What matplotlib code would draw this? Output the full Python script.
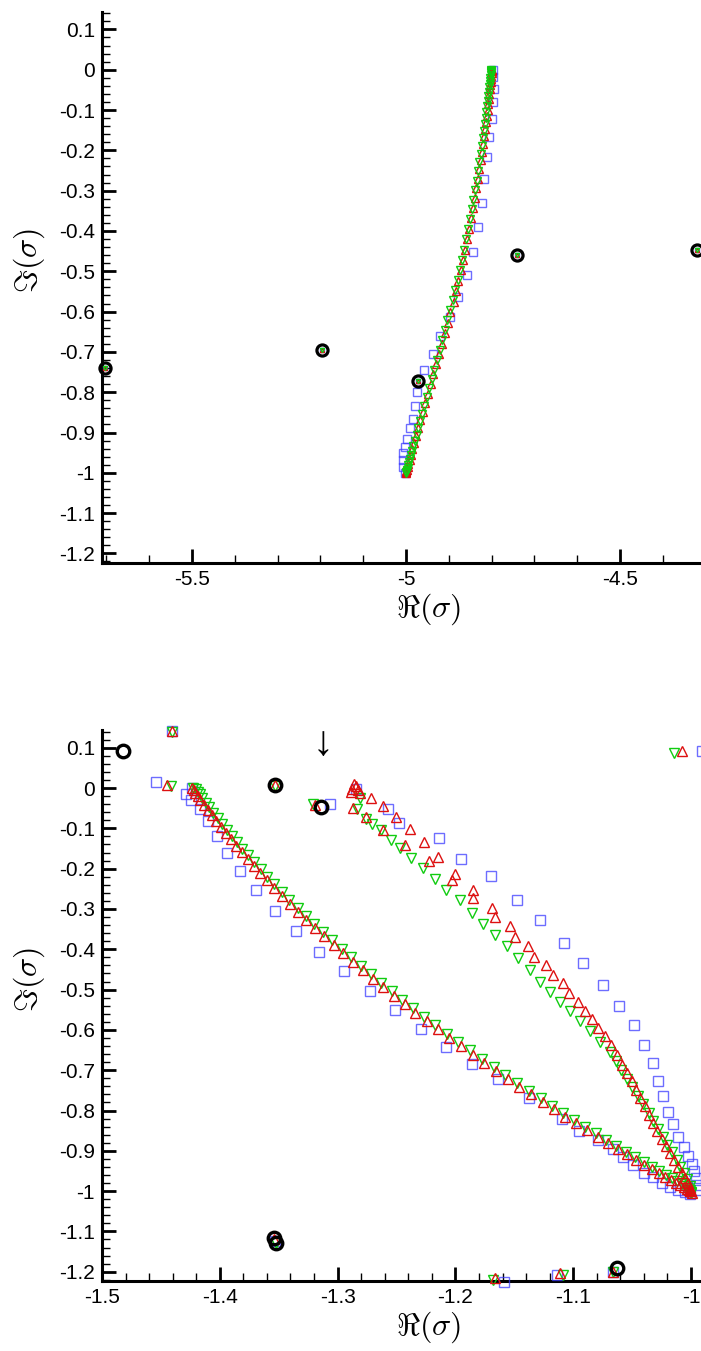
import matplotlib
matplotlib.use("Agg")
import matplotlib.pyplot as plt
from matplotlib.ticker import MultipleLocator, FuncFormatter

plt.rcParams["font.family"] = ["Liberation Sans", "DejaVu Sans"]
plt.rcParams["mathtext.fontset"] = "cm"
plt.rcParams["axes.unicode_minus"] = False

# ---------------- upper panel: spectrum near Re = -5 ----------------
top_red_re = [-4.7990, -4.7994, -4.7999, -4.8004, -4.8011, -4.8019, -4.8029, -4.8039, -4.8051,
              -4.8064, -4.8078, -4.8094, -4.8112, -4.8131, -4.8153, -4.8176, -4.8201, -4.8228,
              -4.8257, -4.8289, -4.8324, -4.8361, -4.8399, -4.8441, -4.8483, -4.8529, -4.8576,
              -4.8625, -4.8675, -4.8726, -4.8779, -4.8833, -4.8889, -4.8966, -4.9030, -4.9095,
              -4.9160, -4.9226, -4.9292, -4.9360, -4.9425, -4.9490, -4.9553, -4.9612, -4.9668,
              -4.9720, -4.9768, -4.9812, -4.9852, -4.9888, -4.9918, -4.9944, -4.9962, -4.9978,
              -4.9990, -4.9998, -5.0000]
top_red_im = [0.0, -0.004, -0.009, -0.015, -0.022, -0.030, -0.039, -0.049, -0.060, -0.072,
              -0.085, -0.099, -0.114, -0.130, -0.147, -0.165, -0.184, -0.204, -0.225, -0.247,
              -0.270, -0.294, -0.318, -0.343, -0.368, -0.394, -0.420, -0.446, -0.472, -0.498,
              -0.524, -0.550, -0.576, -0.602, -0.628, -0.654, -0.680, -0.706, -0.731, -0.756,
              -0.780, -0.804, -0.827, -0.849, -0.870, -0.890, -0.909, -0.926, -0.942, -0.956,
              -0.968, -0.978, -0.986, -0.992, -0.996, -0.999, -1.000]

top_green_re = [-4.8010, -4.8012, -4.8015, -4.8019, -4.8023, -4.8029, -4.8036, -4.8044, -4.8054,
                -4.8064, -4.8076, -4.8089, -4.8104, -4.8120, -4.8138, -4.8158, -4.8179, -4.8202,
                -4.8227, -4.8255, -4.8285, -4.8317, -4.8351, -4.8387, -4.8426, -4.8466, -4.8508,
                -4.8552, -4.8598, -4.8645, -4.8693, -4.8742, -4.8793, -4.8845, -4.8898, -4.8973,
                -4.9031, -4.9092, -4.9154, -4.9217, -4.9278, -4.9340, -4.9400, -4.9460, -4.9516,
                -4.9570, -4.9620, -4.9667, -4.9712, -4.9752, -4.9792, -4.9826, -4.9860, -4.9888,
                -4.9910, -4.9930, -4.9948, -4.9962, -4.9976, -4.9988, -4.9997, -5.0000]
top_green_im = [0.0, -0.002, -0.005, -0.009, -0.014, -0.020, -0.027, -0.035, -0.044, -0.054,
                -0.065, -0.077, -0.090, -0.104, -0.119, -0.135, -0.152, -0.170, -0.189, -0.209,
                -0.230, -0.252, -0.275, -0.298, -0.322, -0.346, -0.371, -0.396, -0.421, -0.446,
                -0.471, -0.496, -0.521, -0.546, -0.571, -0.596, -0.621, -0.646, -0.671, -0.696,
                -0.720, -0.744, -0.767, -0.790, -0.812, -0.833, -0.853, -0.872, -0.890, -0.906,
                -0.921, -0.934, -0.946, -0.957, -0.966, -0.974, -0.981, -0.987, -0.992, -0.996,
                -0.999, -1.000]

top_blue_re = [-4.7970, -4.7960, -4.7944, -4.7975, -4.7998, -4.8054, -4.8115, -4.8171, -4.8232,
               -4.8311, -4.8428, -4.8582, -4.8778, -4.8972, -4.9206, -4.9377, -4.9580, -4.9750,
               -4.9790, -4.9843, -4.9907, -4.9970, -5.0023, -5.0060, -5.0077, -5.0080, -5.0030]
top_blue_im = [0.0, -0.018, -0.047, -0.080, -0.121, -0.167, -0.216, -0.272, -0.330, -0.390,
               -0.452, -0.510, -0.564, -0.613, -0.661, -0.704, -0.746, -0.800, -0.835, -0.866,
               -0.890, -0.915, -0.936, -0.952, -0.969, -0.985, -1.000]

top_circ_re = [-5.703, -5.196, -4.972, -4.741, -4.320]
top_circ_im = [-0.739, -0.695, -0.773, -0.459, -0.446]

# ---------------- lower panel: spectrum near Re = -1 ----------------
# long branch from (-1.42, 0) down to (-1, -1)
la_red_re = [-1.4237, -1.4223, -1.4208, -1.4189, -1.4164, -1.4135, -1.4101, -1.4068, -1.4031,
             -1.3990, -1.3949, -1.3907, -1.3861, -1.3814, -1.3763, -1.3711, -1.3655, -1.3598,
             -1.3536, -1.3473, -1.3404, -1.3335, -1.3264, -1.3191, -1.3114, -1.3034, -1.2953,
             -1.2870, -1.2786, -1.2700, -1.2612, -1.2523, -1.2432, -1.2339, -1.2245, -1.2149,
             -1.2052, -1.1952, -1.1851, -1.1754, -1.1655, -1.1554, -1.1457, -1.1359, -1.1259,
             -1.1163, -1.1066, -1.0974, -1.0880, -1.0791, -1.0706, -1.0621, -1.0540, -1.0465,
             -1.0395, -1.0331, -1.0271, -1.0218, -1.0170, -1.0127, -1.0091, -1.0061, -1.0037,
             -1.0018, -1.0006, -1.0000]
la_red_im = [0.0, -0.006, -0.012, -0.020, -0.030, -0.042, -0.055, -0.068, -0.082, -0.097,
             -0.112, -0.127, -0.143, -0.159, -0.176, -0.193, -0.211, -0.229, -0.248, -0.267,
             -0.287, -0.307, -0.327, -0.347, -0.368, -0.389, -0.410, -0.431, -0.452, -0.473,
             -0.494, -0.515, -0.536, -0.557, -0.578, -0.599, -0.620, -0.641, -0.662, -0.682,
             -0.702, -0.722, -0.741, -0.760, -0.779, -0.797, -0.815, -0.832, -0.849, -0.865,
             -0.880, -0.895, -0.909, -0.922, -0.934, -0.945, -0.955, -0.964, -0.972, -0.979,
             -0.985, -0.990, -0.994, -0.997, -0.999, -1.000]

la_green_re = [-1.4227, -1.4200, -1.4186, -1.4169, -1.4147, -1.4120, -1.4089, -1.4056, -1.4019,
               -1.3982, -1.3941, -1.3899, -1.3854, -1.3808, -1.3760, -1.3709, -1.3653, -1.3596,
               -1.3538, -1.3476, -1.3409, -1.3340, -1.3270, -1.3198, -1.3125, -1.3046, -1.2966,
               -1.2884, -1.2801, -1.2715, -1.2629, -1.2540, -1.2450, -1.2358, -1.2265, -1.2170,
               -1.2073, -1.1975, -1.1875, -1.1773, -1.1674, -1.1575, -1.1473, -1.1375, -1.1276,
               -1.1181, -1.1085, -1.0993, -1.0900, -1.0806, -1.0722, -1.0637, -1.0551, -1.0476,
               -1.0400, -1.0330, -1.0271, -1.0211, -1.0164, -1.0122, -1.0080, -1.0050, -1.0035,
               -1.0015, -1.0005, -1.0000]
la_green_im = [0.0, -0.003, -0.009, -0.016, -0.025, -0.036, -0.048, -0.061, -0.075, -0.089,
               -0.104, -0.119, -0.135, -0.151, -0.167, -0.184, -0.202, -0.220, -0.238, -0.257,
               -0.277, -0.297, -0.317, -0.337, -0.357, -0.378, -0.399, -0.420, -0.441, -0.462,
               -0.483, -0.504, -0.525, -0.546, -0.567, -0.588, -0.609, -0.630, -0.651, -0.672,
               -0.692, -0.712, -0.732, -0.751, -0.770, -0.788, -0.806, -0.823, -0.840, -0.857,
               -0.872, -0.887, -0.902, -0.915, -0.928, -0.940, -0.950, -0.960, -0.968, -0.975,
               -0.982, -0.988, -0.992, -0.996, -0.998, -1.003]

la_blue_re = [-1.4237, -1.4285, -1.4242, -1.4172, -1.4101, -1.4025, -1.3936, -1.3826, -1.3696,
              -1.3534, -1.3356, -1.3158, -1.2946, -1.2727, -1.2509, -1.2294, -1.2076, -1.1855,
              -1.1637, -1.1375, -1.1099, -1.0949, -1.0788, -1.0660, -1.0580, -1.0495, -1.0397,
              -1.0320, -1.0249, -1.0178, -1.0108, -1.0051, -1.0008]
la_blue_im = [0.0, -0.014, -0.029, -0.052, -0.083, -0.118, -0.161, -0.207, -0.254, -0.304,
              -0.354, -0.406, -0.455, -0.503, -0.551, -0.597, -0.642, -0.685, -0.721, -0.768,
              -0.821, -0.850, -0.874, -0.896, -0.916, -0.935, -0.954, -0.966, -0.979, -0.989,
              -0.997, -1.003, -1.006]

# short branch from (-1.285, 0) down to (-1, -1)
lb_red_re = [-1.2860, -1.2846, -1.2875, -1.2830, -1.2890, -1.2810, -1.2713, -1.2614, -1.2506,
             -1.2387, -1.2266, -1.2147, -1.2005, -1.1850, -1.1693, -1.1538, -1.1382, -1.1235,
             -1.1090, -1.0958, -1.0839, -1.0731, -1.2869, -1.2761, -1.2614, -1.2430, -1.2223,
             -1.2033, -1.1850, -1.1665, -1.1495, -1.1334, -1.1175, -1.1034, -1.0901, -1.0788,
             -1.0680, -1.0631, -1.0589, -1.0541, -1.0504, -1.0467, -1.0433, -1.0391, -1.0354,
             -1.0320, -1.0286, -1.0249, -1.0213, -1.0178, -1.0144, -1.0108, -1.0079, -1.0051,
             -1.0028, -1.0008, -0.9994]
lb_red_im = [0.010, 0.004, -0.002, -0.004, -0.010, -0.012, -0.025, -0.044, -0.071, -0.102,
             -0.135, -0.172, -0.213, -0.254, -0.298, -0.343, -0.391, -0.439, -0.484, -0.530,
             -0.573, -0.616, -0.050, -0.073, -0.105, -0.141, -0.182, -0.228, -0.273, -0.320,
             -0.370, -0.418, -0.463, -0.509, -0.552, -0.596, -0.637, -0.662, -0.687, -0.707,
             -0.728, -0.749, -0.769, -0.790, -0.811, -0.831, -0.852, -0.871, -0.889, -0.906,
             -0.922, -0.939, -0.954, -0.968, -0.980, -0.993, -1.004]

lb_green_re = [-1.2835, -1.2812, -1.2761, -1.2704, -1.2628, -1.2549, -1.2472, -1.2373, -1.2274,
               -1.2175, -1.2076, -1.1963, -1.1863, -1.1765, -1.1665, -1.1566, -1.1467, -1.1368,
               -1.1283, -1.1198, -1.1113, -1.1028, -1.0943, -1.0858, -1.0773, -1.0688, -1.0640,
               -1.0590, -1.0540, -1.0500, -1.0450, -1.0410, -1.0360, -1.0320, -1.0280, -1.0240,
               -1.0200, -1.0160, -1.0120, -1.0090, -1.0060, -1.0030, -1.0010, -1.0000]
lb_green_im = [-0.052, -0.025, -0.077, -0.089, -0.105, -0.128, -0.149, -0.174, -0.199, -0.225,
               -0.252, -0.279, -0.309, -0.337, -0.364, -0.393, -0.422, -0.451, -0.480, -0.505,
               -0.530, -0.554, -0.579, -0.604, -0.629, -0.654, -0.678, -0.700, -0.721, -0.742,
               -0.763, -0.784, -0.805, -0.826, -0.846, -0.866, -0.885, -0.904, -0.922, -0.939,
               -0.955, -0.970, -0.988, -1.005]

lb_blue_re = [-1.2846, -1.2572, -1.2481, -1.2141, -1.1954, -1.1699, -1.1481, -1.1283, -1.1082,
              -1.0920, -1.0750, -1.0614, -1.0487, -1.0399, -1.0326, -1.0278, -1.0235, -1.0198,
              -1.0156, -1.0108, -1.0057, -1.0023, -0.9994, -0.9975, -0.9960, -0.9952, -0.9952]
lb_blue_im = [-0.003, -0.052, -0.087, -0.123, -0.175, -0.219, -0.277, -0.328, -0.384, -0.435,
              -0.489, -0.540, -0.589, -0.637, -0.683, -0.726, -0.765, -0.803, -0.833, -0.865,
              -0.891, -0.912, -0.932, -0.951, -0.968, -0.984, -0.997]

# isolated eigenvalues in the lower panel
iso_red_re = [-1.4404, -1.4450, -1.3534, -1.3195, -1.0079, -1.1665, -1.1113, -1.0660, -1.3540]
iso_red_im = [0.1405, 0.008, 0.008, -0.041, 0.091, -1.216, -1.2035, -1.1995, -1.118]
iso_green_re = [-1.4404, -1.4412, -1.3534, -1.3210, -1.0144, -1.1680, -1.1090, -1.0660, -1.3520]
iso_green_im = [0.1390, 0.004, 0.006, -0.040, 0.087, -1.220, -1.2077, -1.2010, -1.128]
iso_blue_re = [-1.4404, -1.4540, -1.3534, -1.3067, -0.9910, -1.1589, -1.1141, -1.0665, -1.3530]
iso_blue_im = [0.1405, 0.015, 0.008, -0.039, 0.091, -1.2243, -1.2077, -1.2000, -1.123]

low_circ_re = [-1.4823, -1.3534, -1.3138, -1.3540, -1.3520, -1.0631]
low_circ_im = [0.091, 0.008, -0.047, -1.116, -1.129, -1.191]

arrow_re, arrow_im = -1.3127, 0.107

RED = "#dd1010"
GREEN = "#10cc10"
BLUE = "#3c3cff"


def fmt(v, pos):
    v = round(v, 3)
    if v == 0:
        return "0"
    return "%g" % v


def style_axes(ax, xmajor, xminor):
    for side in ("top", "right"):
        ax.spines[side].set_visible(False)
    for side in ("left", "bottom"):
        ax.spines[side].set_linewidth(2.2)
    ax.xaxis.set_major_locator(MultipleLocator(xmajor))
    ax.xaxis.set_minor_locator(MultipleLocator(xminor))
    ax.yaxis.set_major_locator(MultipleLocator(0.1))
    ax.yaxis.set_minor_locator(MultipleLocator(0.02))
    ax.xaxis.set_major_formatter(FuncFormatter(fmt))
    ax.yaxis.set_major_formatter(FuncFormatter(fmt))
    ax.tick_params(which="major", direction="in", length=10, width=2.0,
                   labelsize=15, pad=5, top=False, right=False)
    ax.tick_params(which="minor", direction="in", length=5.5, width=1.0,
                   top=False, right=False)
    ax.set_ylim(-1.223, 0.144)
    ax.set_xlabel(r"$\Re(\sigma)$", fontsize=23)
    ax.set_ylabel(r"$\Im(\sigma)$", fontsize=23)
    ax.xaxis.set_label_coords(0.545, -0.052)
    ax.yaxis.set_label_coords(-0.092, 0.548)


def pts(ax, x, y, marker, color, ms, mew=1.0, alpha=1.0, z=3):
    ax.plot(x, y, linestyle="none", marker=marker, markersize=ms,
            markerfacecolor="none", markeredgecolor=color, markeredgewidth=mew,
            alpha=alpha, clip_on=False, zorder=z)


fig = plt.figure(figsize=(7.01, 13.51), dpi=100)
W, H = 701.0, 1351.0
ax1 = fig.add_axes([102 / W, 1 - 562.7 / H, 599 / W, 551 / H])
ax2 = fig.add_axes([102 / W, 1 - 1281 / H, 599 / W, 551 / H])

# upper panel
pts(ax1, top_blue_re, top_blue_im, "s", BLUE, 6.0, alpha=0.75, z=3)
pts(ax1, top_circ_re, top_circ_im, "s", BLUE, 3.0, alpha=0.75, z=3)
pts(ax1, top_red_re, top_red_im, "^", RED, 6.3, z=4)
pts(ax1, top_circ_re, top_circ_im, "^", RED, 3.0, z=4)
pts(ax1, top_green_re, top_green_im, "v", GREEN, 6.3, z=5)
pts(ax1, top_circ_re, top_circ_im, "v", GREEN, 3.0, z=5)
pts(ax1, top_circ_re, top_circ_im, "o", "black", 8.0, mew=2.3, z=6)
ax1.set_xlim(-5.710, -4.311)
style_axes(ax1, 0.5, 0.1)

# lower panel
pts(ax2, la_blue_re, la_blue_im, "s", BLUE, 6.5, alpha=0.75, z=3)
pts(ax2, lb_blue_re, lb_blue_im, "s", BLUE, 6.5, alpha=0.75, z=3)
pts(ax2, iso_blue_re, iso_blue_im, "s", BLUE, 6.5, alpha=0.75, z=3)
pts(ax2, la_green_re, la_green_im, "v", GREEN, 7.8, z=4)
pts(ax2, lb_green_re, lb_green_im, "v", GREEN, 7.8, z=4)
pts(ax2, iso_green_re, iso_green_im, "v", GREEN, 7.8, z=4)
pts(ax2, la_red_re, la_red_im, "^", RED, 7.8, z=5)
pts(ax2, lb_red_re, lb_red_im, "^", RED, 7.8, z=5)
pts(ax2, iso_red_re, iso_red_im, "^", RED, 7.8, z=5)
pts(ax2, low_circ_re, low_circ_im, "o", "black", 9.0, mew=2.4, z=6)
ax2.text(arrow_re, arrow_im, "\u2193", fontsize=30, ha="center", va="center",
         family=["Liberation Serif", "DejaVu Serif"], color="black")
ax2.set_xlim(-1.5, -0.9915)
style_axes(ax2, 0.1, 0.02)

fig.savefig("out.png", dpi=100)
